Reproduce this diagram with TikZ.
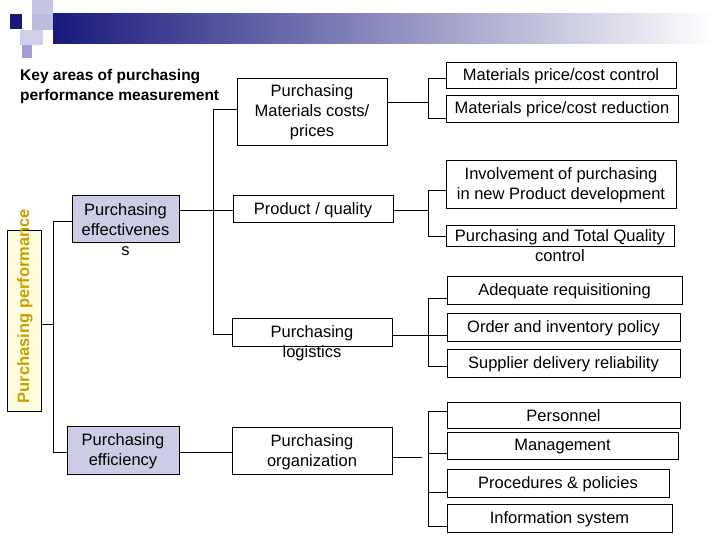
\documentclass[tikz,border=0pt]{standalone}
\usepackage{fontspec}
\setmainfont{Liberation Sans}
\begin{document}
\begin{tikzpicture}[x=1pt,y=-1pt,
  box/.style={draw=black,line width=0.8pt,fill=white,inner sep=0pt},
  eff/.style={box,fill=effc},
  txt/.style={font=\fontsize{16.5}{20}\selectfont,align=center,inner sep=0pt},
  ln/.style={line width=0.8pt}]
\definecolor{effc}{RGB}{204,204,230}
\definecolor{navy}{RGB}{25,25,125}
\definecolor{lav}{RGB}{160,160,210}
\definecolor{gold}{RGB}{200,160,0}
\useasboundingbox (0,0) rectangle (720,540);
% header
\shade[left color=navy,right color=white] (53,14) rectangle (715,44);
\fill[lav!60] (32,0) rectangle (53,14);
\fill[lav!70] (32,14) rectangle (53,30);
\fill[lav!50] (20,30) rectangle (43,45);
\fill[lav] (22,45) rectangle (32,58);
\fill[navy] (10,14) rectangle (22,29);
% title
\node[txt,font=\bfseries\fontsize{15.5}{20}\selectfont,align=left,anchor=north west] (title) at (20,69) {Key areas of purchasing\\performance measurement};
% root
\node[box,fill=yellow!12,minimum width=34pt,minimum height=181pt] (root) at (24,320.5) {};
\node[rotate=90,text=gold,font=\bfseries\fontsize{16.5}{18}\selectfont] (roott) at (25,306) {Purchasing performance};
% level 1
\node[eff,minimum width=107pt,minimum height=47pt] (pe) at (125.5,218.5) {};
\node[txt] (pet) at (125.5,230) {Purchasing\\effectivenes\\s};
\node[eff,minimum width=112pt,minimum height=48pt] (pf) at (123,450) {};
\node[txt] (pft) at (123,451) {Purchasing\\efficiency};
% level 2
\node[box,minimum width=150pt,minimum height=67pt] (mc) at (312,111.5) {};
\node[txt] (mct) at (312,112) {Purchasing\\Materials costs/\\prices};
\node[box,minimum width=160pt,minimum height=27pt] (pq) at (313,208.5) {};
\node[txt] (pqt) at (313,210) {Product / quality};
\node[box,minimum width=160pt,minimum height=28pt] (pl) at (312,332) {};
\node[txt] (plt) at (312,343) {Purchasing\\logistics};
\node[box,minimum width=160pt,minimum height=47pt] (po) at (312,450.5) {};
\node[txt] (pot) at (312,452) {Purchasing\\organization};
% level 3
\node[box,minimum width=230pt,minimum height=26pt] (a1) at (561,75) {};
\node[txt] at ([yshift=-1pt]a1) {Materials price/cost control};
\node[box,minimum width=232pt,minimum height=27pt] (a2) at (562,108.5) {};
\node[txt] at ([yshift=-1pt]a2) {Materials price/cost reduction};
\node[box,minimum width=230pt,minimum height=48pt] (b1) at (561,184) {};
\node[txt] at ([yshift=-1pt]b1) {Involvement of purchasing\\in new Product development};
\node[box,minimum width=228pt,minimum height=21pt] (b2) at (560,235.5) {};
\node[txt] (b2t) at (560,246) {Purchasing and Total Quality\\control};
\node[box,minimum width=235pt,minimum height=28pt] (c1) at (564.5,290) {};
\node[txt] at ([yshift=-1pt]c1) {Adequate requisitioning};
\node[box,minimum width=233pt,minimum height=28pt] (c2) at (563.5,327) {};
\node[txt] at ([yshift=-1pt]c2) {Order and inventory policy};
\node[box,minimum width=233pt,minimum height=28pt] (c3) at (563.5,363) {};
\node[txt] at ([yshift=-1pt]c3) {Supplier delivery reliability};
\node[box,minimum width=233pt,minimum height=26pt] (d1) at (563.5,415) {};
\node[txt] at ([yshift=-1pt]d1) {Personnel};
\node[box,minimum width=231pt,minimum height=27pt] (d2) at (562.5,445.5) {};
\node[txt] at ([yshift=-1pt]d2) {Management};
\node[box,minimum width=222pt,minimum height=28pt] (d3) at (558,483) {};
\node[txt] at ([yshift=-1pt]d3) {Procedures \& policies};
\node[box,minimum width=225pt,minimum height=28pt] (d4) at (559.5,518) {};
\node[txt] at ([yshift=-1pt]d4) {Information system};
% connectors
\draw[ln] (root.east |- 0,324) -- (53,324);
\draw[ln] (pe.west |- 0,221) -| (53,452) -- (pf.west |- 0,452);
\draw[ln] (pe.east |- 0,210) -- (pq.west |- 0,210);
\draw[ln] (mc.west |- 0,109) -| (213,334) -- (pl.west |- 0,334);
\draw[ln] (pf.east |- 0,452) -- (po.west |- 0,452);
\draw[ln] (mc.east |- 0,102) -- (428,102);
\draw[ln] (a1.west |- 0,78) -| (428,118) -- (a2.west |- 0,118);
\draw[ln] (pq.east |- 0,210) -- (428,210);
\draw[ln] (b1.west |- 0,190) -| (428,236) -- (b2.west |- 0,236);
\draw[ln] (pl.east |- 0,335) -- (c2.west |- 0,335);
\draw[ln] (c1.west |- 0,298) -| (428,366) -- (c3.west |- 0,366);
\draw[ln] (po.east |- 0,457) -- (422,457);
\draw[ln] (d1.west |- 0,411) -| (428,526) -- (d4.west |- 0,526);
\draw[ln] (428,453) -- (d2.west |- 0,453);
\draw[ln] (428,492) -- (d3.west |- 0,492);
\end{tikzpicture}
\end{document}
